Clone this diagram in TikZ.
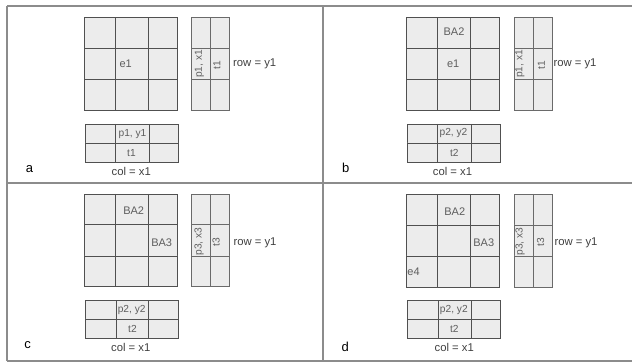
\documentclass[tikz,border=0pt]{standalone}
\usepackage{fontspec}
\setmainfont{Liberation Sans}
\definecolor{cellfill}{HTML}{ECECEC}
\definecolor{cellline}{HTML}{505050}
\definecolor{stripline}{HTML}{6A6A6A}
\definecolor{framecol}{HTML}{8C8C8C}
\definecolor{celltext}{HTML}{5E5E5E}
\definecolor{lbltext}{HTML}{404040}
\newcommand\mygrid[9]{%
  \filldraw[#9] (#1,#3) rectangle (#2,#4);
  \draw[#9] (#5,#3) -- (#5,#4) (#6,#3) -- (#6,#4) (#1,#7) -- (#2,#7) (#1,#8) -- (#2,#8);}
\newcommand\mystripV[8]{%
  \filldraw[#8] (#1,#3) rectangle (#2,#4);
  \draw[#8] (#5,#3) -- (#5,#4) (#1,#6) -- (#2,#6) (#1,#7) -- (#2,#7);}
\newcommand\mystripH[8]{%
  \filldraw[#8] (#1,#3) rectangle (#2,#4);
  \draw[#8] (#5,#3) -- (#5,#4) (#6,#3) -- (#6,#4) (#1,#7) -- (#2,#7);}
\begin{document}
\begin{tikzpicture}[x=1pt,y=-1pt,
  cell/.style={fill=cellfill,draw=cellline,line width=0.9pt},
  vcell/.style={fill=cellfill,draw=stripline,line width=0.9pt},
  frame/.style={draw=framecol,line width=1.3pt},
  ctext/.style={text=celltext,font=\fontsize{11}{13}\selectfont,inner sep=0pt},
  stext/.style={text=celltext,font=\fontsize{10.2}{12}\selectfont,inner sep=0pt},
  rtext/.style={text=celltext,font=\fontsize{10.2}{12}\selectfont,inner sep=0pt,rotate=90},
  ltext/.style={text=lbltext,font=\fontsize{11.3}{13}\selectfont,inner sep=0pt},
  ptext/.style={text=black,font=\fontsize{13}{15}\selectfont,inner sep=0pt,anchor=base}]
\useasboundingbox (0,0) rectangle (632,363);
% frame
\draw[frame] (7,6) -- (632,6) (7,183) -- (632,183) (7,361) -- (632,361)
  (7,6) -- (7,361) (323,6) -- (323,361);
% ---------- panel a
\mygrid{84.3}{177.7}{17.3}{110}{115.7}{148.7}{48.7}{79.3}{cell}
\mystripV{191.7}{229.7}{17.3}{110}{210.7}{48.7}{79.3}{vcell}
\mystripH{85.3}{178.3}{124}{162}{115.7}{149.3}{143}{cell}
\node[ctext] (ae1) at (125.7,63.3) {e1};
\node[rtext] (apx) at (199.5,64) {p1, x1};
\node[rtext] (at1v) at (217,65) {t1};
\node[ltext,anchor=west] (arow) at (233,63.3) {row = y1};
\node[stext] (apy) at (132.5,134.3) {p1, y1};
\node[stext] (at1h) at (131.5,152.7) {t1};
\node[ltext] (acol) at (131.3,171) {col = x1};
\node[ptext] (alab) at (29.5,173) {a};
% ---------- panel b
\mygrid{406.3}{499.7}{17.3}{110}{437.3}{470.7}{48.7}{79.3}{cell}
\mystripV{514.3}{552}{17.3}{110}{533.3}{48.7}{79.3}{vcell}
\mystripH{407}{500.3}{124}{162}{437.3}{471.3}{143}{cell}
\node[ctext] (bba2) at (454,32) {BA2};
\node[ctext] (be1) at (453.2,63.3) {e1};
\node[rtext] (bpx) at (520,64) {p1, x1};
\node[rtext] (bt1v) at (541.5,65) {t1};
\node[ltext,anchor=west] (brow) at (553.3,63.3) {row = y1};
\node[stext] (bpy) at (453.5,133.5) {p2, y2};
\node[stext] (bt2h) at (454.3,152.7) {t2};
\node[ltext] (bcol) at (452.5,171) {col = x1};
\node[ptext] (blab) at (345.8,172.5) {b};
% ---------- panel c
\mygrid{84.3}{177.7}{194}{286.7}{115.7}{148.7}{224.7}{256}{cell}
\mystripV{191.7}{229.7}{194}{286.7}{210.7}{224.7}{256}{vcell}
\mystripH{85.3}{178.3}{300.3}{338}{116}{148.7}{319}{cell}
\node[ctext] (cba2) at (133.7,210.3) {BA2};
\node[ctext] (cba3) at (161.7,243) {BA3};
\node[rtext] (cpx) at (199,241.5) {p3, x3};
\node[rtext] (ct3v) at (216,242) {t3};
\node[ltext,anchor=west] (crow) at (233.3,243) {row = y1};
\node[stext] (cpy) at (131.7,309.7) {p2, y2};
\node[stext] (ct2h) at (132.5,328.7) {t2};
\node[ltext] (ccol) at (130.8,347.5) {col = x1};
\node[ptext] (clab) at (27.5,348.3) {c};
% ---------- panel d
\mygrid{406.3}{499.7}{194}{287.3}{437.3}{470.7}{225}{256}{cell}
\mystripV{514}{552}{194}{287.3}{533.3}{225}{256}{vcell}
\mystripH{407}{500.3}{300.3}{338.7}{438}{471.3}{319.3}{cell}
\node[ctext] (dba2) at (454.8,211.3) {BA2};
\node[ctext] (dba3) at (483.8,243) {BA3};
\node[ctext] (de4) at (413.5,272) {e4};
\node[rtext] (dpx) at (520,241.5) {p3, x3};
\node[rtext] (dt3v) at (540.5,242) {t3};
\node[ltext,anchor=west] (drow) at (554.3,243) {row = y1};
\node[stext] (dpy) at (453.8,310.3) {p2, y2};
\node[stext] (dt2h) at (454.3,328.7) {t2};
\node[ltext] (dcol) at (454.3,347.5) {col = x1};
\node[ptext] (dlab) at (345.3,352) {d};
\end{tikzpicture}
\end{document}
